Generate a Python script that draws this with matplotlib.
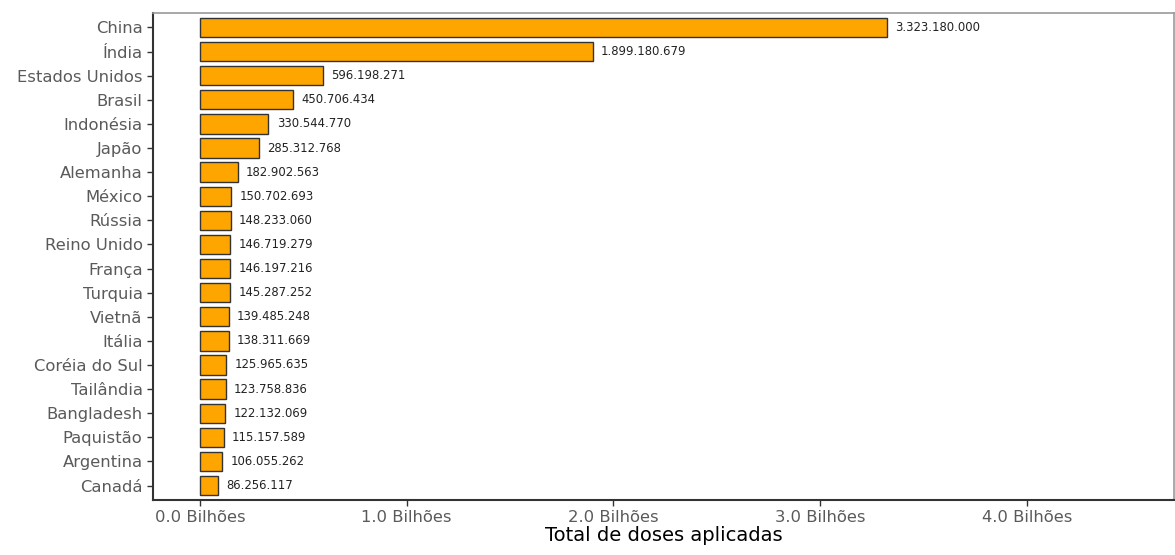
import matplotlib
matplotlib.use("Agg")
import matplotlib.pyplot as plt

# doses aplicadas por país (top 20)
paises = ["China", "Índia", "Estados Unidos", "Brasil", "Indonésia", "Japão",
          "Alemanha", "México", "Rússia", "Reino Unido", "França", "Turquia",
          "Vietnã", "Itália", "Coréia do Sul", "Tailândia", "Bangladesh",
          "Paquistão", "Argentina", "Canadá"]
doses = [3323180000, 1899180679, 596198271, 450706434, 330544770, 285312768,
         182902563, 150702693, 148233060, 146719279, 146197216, 145287252,
         139485248, 138311669, 125965635, 123758836, 122132069, 115157589,
         106055262, 86256117]
xticks = [0, 1e9, 2e9, 3e9, 4e9]
xtick_labels = ["0.0 Bilhões", "1.0 Bilhões", "2.0 Bilhões", "3.0 Bilhões", "4.0 Bilhões"]

plt.rcParams["font.family"] = ["DejaVu Sans"]

fig = plt.figure(figsize=(11.75, 5.55), dpi=100)
ax = fig.add_axes([153 / 1175, 55 / 555, 1 - 153 / 1175 - 0.001, (500 - 13) / 555])

ypos = list(range(len(paises)))
ax.barh(ypos, doses, height=0.8, color="#FFA500", edgecolor="#333333", linewidth=1.0, zorder=2)
for y, v in zip(ypos, doses):
    ax.annotate(f"{v:,}".replace(",", "."), (v, y), textcoords="offset points", xytext=(6, 0),
                va="center", ha="left", fontsize=8.4, color="#222222")

ax.set_yticks(ypos)
ax.set_yticklabels(paises)
ax.set_ylim(len(paises) - 0.4, -0.6)
ax.set_xticks(xticks)
ax.set_xticklabels(xtick_labels)
ax.set_xlim(-0.227e9, 4.71e9)
ax.set_xlabel("Total de doses aplicadas", fontsize=14, color="black", labelpad=1)

ax.tick_params(axis="both", colors="#333333", labelcolor="#5a5a5a", labelsize=11.8, length=4, width=1)
ax.tick_params(axis="x", pad=3)
for s in ("left", "bottom"):
    ax.spines[s].set_color("#333333")
    ax.spines[s].set_linewidth(1.5)
for s in ("top", "right"):
    ax.spines[s].set_color("#999999")
    ax.spines[s].set_linewidth(1.2)

fig.savefig("out.png", dpi=100)
